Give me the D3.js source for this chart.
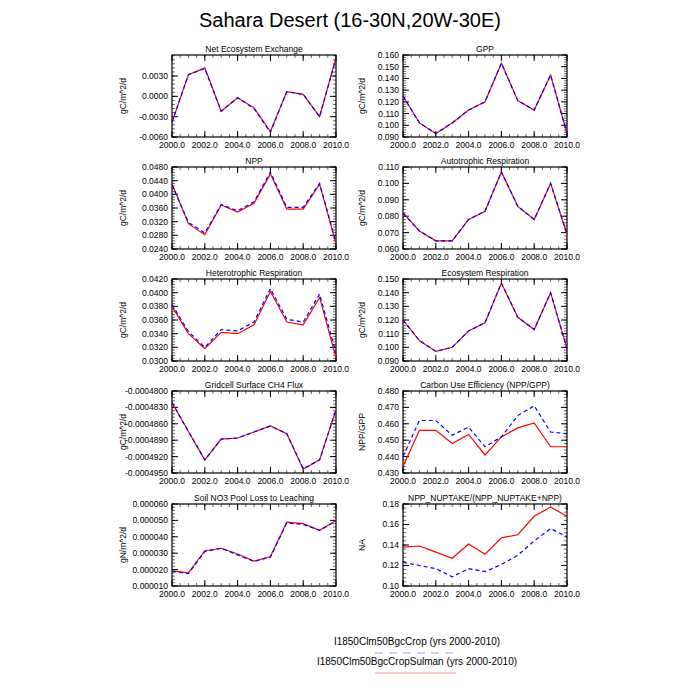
<!DOCTYPE html>
<html><head><meta charset="utf-8">
<script src="https://cdn.jsdelivr.net/npm/d3@7"></script>
<style>body{margin:0;background:#fff}text{font-family:"Liberation Sans",Arial,sans-serif}</style>
</head><body><div id="chart"></div>
<script>
const years = [2000,2001,2002,2003,2004,2005,2006,2007,2008,2009,2010]
const xTicks = [2000,2002,2004,2006,2008,2010]

const neeCrop   = [-0.0038,0.0032,0.0041,-0.0022,-0.0002,-0.0018,-0.0053,0.0007,0.0003,-0.0030,0.0056]
const neeSulman = [-0.0038,0.0032,0.0042,-0.0022,-0.0002,-0.0017,-0.0052,0.0007,0.0003,-0.0030,0.0057]
const gppCrop   = [0.125,0.102,0.093,0.102,0.113,0.120,0.153,0.121,0.113,0.143,0.093]
const gppSulman = [0.125,0.102,0.093,0.102,0.113,0.120,0.153,0.121,0.113,0.143,0.093]
const nppCrop   = [0.0428,0.0318,0.0287,0.0370,0.0352,0.0378,0.0465,0.0362,0.0362,0.0432,0.0260]
const nppSulman = [0.0430,0.0314,0.0282,0.0369,0.0348,0.0374,0.0460,0.0357,0.0357,0.0430,0.0255]
const arCrop    = [0.082,0.071,0.065,0.065,0.078,0.083,0.107,0.086,0.078,0.100,0.069]
const arSulman  = [0.082,0.071,0.065,0.065,0.078,0.083,0.107,0.086,0.078,0.100,0.069]
const hrCrop    = [0.0383,0.0343,0.0320,0.0346,0.0344,0.0357,0.0406,0.0361,0.0357,0.0398,0.0312]
const hrSulman  = [0.0380,0.0340,0.0318,0.0342,0.0340,0.0353,0.0402,0.0357,0.0353,0.0393,0.0305]
const erCrop    = [0.120,0.105,0.097,0.100,0.112,0.118,0.147,0.122,0.113,0.140,0.099]
const erSulman  = [0.120,0.105,0.097,0.100,0.112,0.118,0.147,0.122,0.113,0.140,0.099]
const ch4Crop   = [-0.0004821,-0.0004874,-0.0004926,-0.0004888,-0.0004886,-0.0004875,-0.0004864,-0.0004878,-0.0004942,-0.0004926,-0.0004834]
const ch4Sulman = [-0.0004821,-0.0004874,-0.0004926,-0.0004888,-0.0004886,-0.0004875,-0.0004864,-0.0004878,-0.0004943,-0.0004926,-0.0004834]
const cueCrop   = [0.440,0.462,0.462,0.453,0.458,0.446,0.452,0.465,0.471,0.455,0.454]
const cueSulman = [0.434,0.456,0.456,0.448,0.4535,0.441,0.452,0.4575,0.4605,0.446,0.446]
const no3Crop   = [0.0000190,0.0000175,0.0000310,0.0000330,0.0000290,0.0000250,0.0000275,0.0000485,0.0000475,0.0000440,0.0000495]
const no3Sulman = [0.0000192,0.0000180,0.0000315,0.0000330,0.0000295,0.0000252,0.0000280,0.0000490,0.0000480,0.0000440,0.0000500]
const naCrop    = [0.123,0.120,0.117,0.109,0.117,0.114,0.121,0.130,0.144,0.156,0.148]
const naSulman  = [0.138,0.139,0.133,0.127,0.141,0.131,0.147,0.150,0.168,0.177,0.168]

const panels = [
  {title:"Net Ecosystem Exchange", unit:"gC/m^2/d", crop:neeCrop, sul:neeSulman, dom:[-0.006,0.0061], ticks:[-0.006,-0.003,0,0.003], fmt:".4f", minor:0.0006},
  {title:"GPP", unit:"gC/m^2/d", crop:gppCrop, sul:gppSulman, dom:[0.09,0.16], ticks:d3.range(0.09,0.1601,0.01), fmt:".3f", minor:0.002},
  {title:"NPP", unit:"gC/m^2/d", crop:nppCrop, sul:nppSulman, dom:[0.024,0.048], ticks:d3.range(0.024,0.04801,0.004), fmt:".4f", minor:0.0008},
  {title:"Autotrophic Respiration", unit:"gC/m^2/d", crop:arCrop, sul:arSulman, dom:[0.06,0.11], ticks:d3.range(0.06,0.1101,0.01), fmt:".3f", minor:0.002},
  {title:"Heterotrophic Respiration", unit:"gC/m^2/d", crop:hrCrop, sul:hrSulman, dom:[0.03,0.042], ticks:d3.range(0.03,0.04201,0.002), fmt:".4f", minor:0.0004},
  {title:"Ecosystem Respiration", unit:"gC/m^2/d", crop:erCrop, sul:erSulman, dom:[0.09,0.15], ticks:d3.range(0.09,0.1501,0.01), fmt:".3f", minor:0.002},
  {title:"Gridcell Surface CH4 Flux", unit:"gC/m^2/d", crop:ch4Crop, sul:ch4Sulman, dom:[-0.000495,-0.00048], ticks:[-0.000495,-0.000492,-0.000489,-0.000486,-0.000483,-0.00048], fmt:".7f", minor:0.0000006},
  {title:"Carbon Use Efficiency (NPP/GPP)", unit:"NPP/GPP", crop:cueCrop, sul:cueSulman, dom:[0.43,0.48], ticks:d3.range(0.43,0.4801,0.01), fmt:".3f", minor:0.002},
  {title:"Soil NO3 Pool Loss to Leaching", unit:"gN/m^2/d", crop:no3Crop, sul:no3Sulman, dom:[0.00001,0.00006], ticks:d3.range(0.00001,0.0000601,0.00001), fmt:".6f", minor:0.000002},
  {title:"NPP_NUPTAKE/(NPP_NUPTAKE+NPP)", unit:"NA", crop:naCrop, sul:naSulman, dom:[0.1,0.18], ticks:d3.range(0.1,0.1801,0.02), fmt:".2f", minor:0.004}
]

const svg = d3.select('#chart').append('svg').attr('width',700).attr('height',700)

svg.append('text').attr('x',350).attr('y',27).attr('text-anchor','middle')
  .style('font-size','20px').text('Sahara Desert (16-30N,20W-30E)')

const W = 164, H = 82
const lefts = [172, 403], tops = [55, 167, 279, 391, 504]

panels.forEach((p, i) => {
  const g = svg.append('g').attr('transform', `translate(${lefts[i%2]},${tops[Math.floor(i/2)]})`)
  const x = d3.scaleLinear().domain([2000,2010]).range([0,W])
  const y = d3.scaleLinear().domain(p.dom).range([H,0])

  // minor ticks
  const minors = d3.range(p.dom[0], p.dom[1]+p.minor*0.01, p.minor)
  minors.forEach(v => {
    g.append('line').attr('x1',0).attr('x2',3).attr('y1',y(v)).attr('y2',y(v)).attr('stroke','#000').attr('stroke-width',0.6)
    g.append('line').attr('x1',W).attr('x2',W-3).attr('y1',y(v)).attr('y2',y(v)).attr('stroke','#000').attr('stroke-width',0.6)
  })
  d3.range(2000,2010.01,0.5).forEach(v => {
    g.append('line').attr('x1',x(v)).attr('x2',x(v)).attr('y1',H).attr('y2',H-3).attr('stroke','#000').attr('stroke-width',0.6)
    g.append('line').attr('x1',x(v)).attr('x2',x(v)).attr('y1',0).attr('y2',3).attr('stroke','#000').attr('stroke-width',0.6)
  })
  // major ticks
  p.ticks.forEach(v => {
    g.append('line').attr('x1',0).attr('x2',6).attr('y1',y(v)).attr('y2',y(v)).attr('stroke','#000')
    g.append('line').attr('x1',W).attr('x2',W-6).attr('y1',y(v)).attr('y2',y(v)).attr('stroke','#000')
    g.append('text').attr('x',-4).attr('y',y(v)).attr('dy','0.35em').attr('text-anchor','end')
      .style('font-size','8.5px').text(d3.format(p.fmt)(v).replace('−','-'))
  })
  xTicks.forEach(v => {
    g.append('line').attr('x1',x(v)).attr('x2',x(v)).attr('y1',H).attr('y2',H-6).attr('stroke','#000')
    g.append('line').attr('x1',x(v)).attr('x2',x(v)).attr('y1',0).attr('y2',6).attr('stroke','#000')
    g.append('text').attr('x',x(v)).attr('y',H+11).attr('text-anchor','middle')
      .style('font-size','8.5px').text(d3.format('.1f')(v))
  })
  g.append('rect').attr('width',W).attr('height',H).attr('fill','none').attr('stroke','#000').attr('stroke-width',1.2)

  g.append('text').attr('x',W/2).attr('y',-3).attr('text-anchor','middle').style('font-size','8.5px').text(p.title)
  g.append('text').attr('transform',`translate(${i%2 ? -38 : -46},${H/2}) rotate(-90)`).attr('text-anchor','middle')
    .style('font-size','8.5px').text(p.unit)

  const line = d3.line().x((d,j) => x(years[j])).y(d => y(d))
  g.append('path').datum(p.sul).attr('d',line).attr('fill','none').attr('stroke','red').attr('stroke-width',1.2)
  g.append('path').datum(p.crop).attr('d',line).attr('fill','none').attr('stroke','blue').attr('stroke-width',1.2).attr('stroke-dasharray','4,3')
})

const legend = [
  {label:"I1850Clm50BgcCrop (yrs 2000-2010)", color:"#9999ff", dash:"8,6", y:645},
  {label:"I1850Clm50BgcCropSulman (yrs 2000-2010)", color:"#ff9999", dash:null, y:665}
]
legend.forEach(l => {
  svg.append('text').attr('x',417).attr('y',l.y).attr('text-anchor','middle').style('font-size','10px').text(l.label)
  svg.append('line').attr('x1',375).attr('x2',456).attr('y1',l.y+8).attr('y2',l.y+8)
    .attr('stroke',l.color).attr('stroke-width',1.2).attr('stroke-dasharray',l.dash)
})
</script></body></html>
